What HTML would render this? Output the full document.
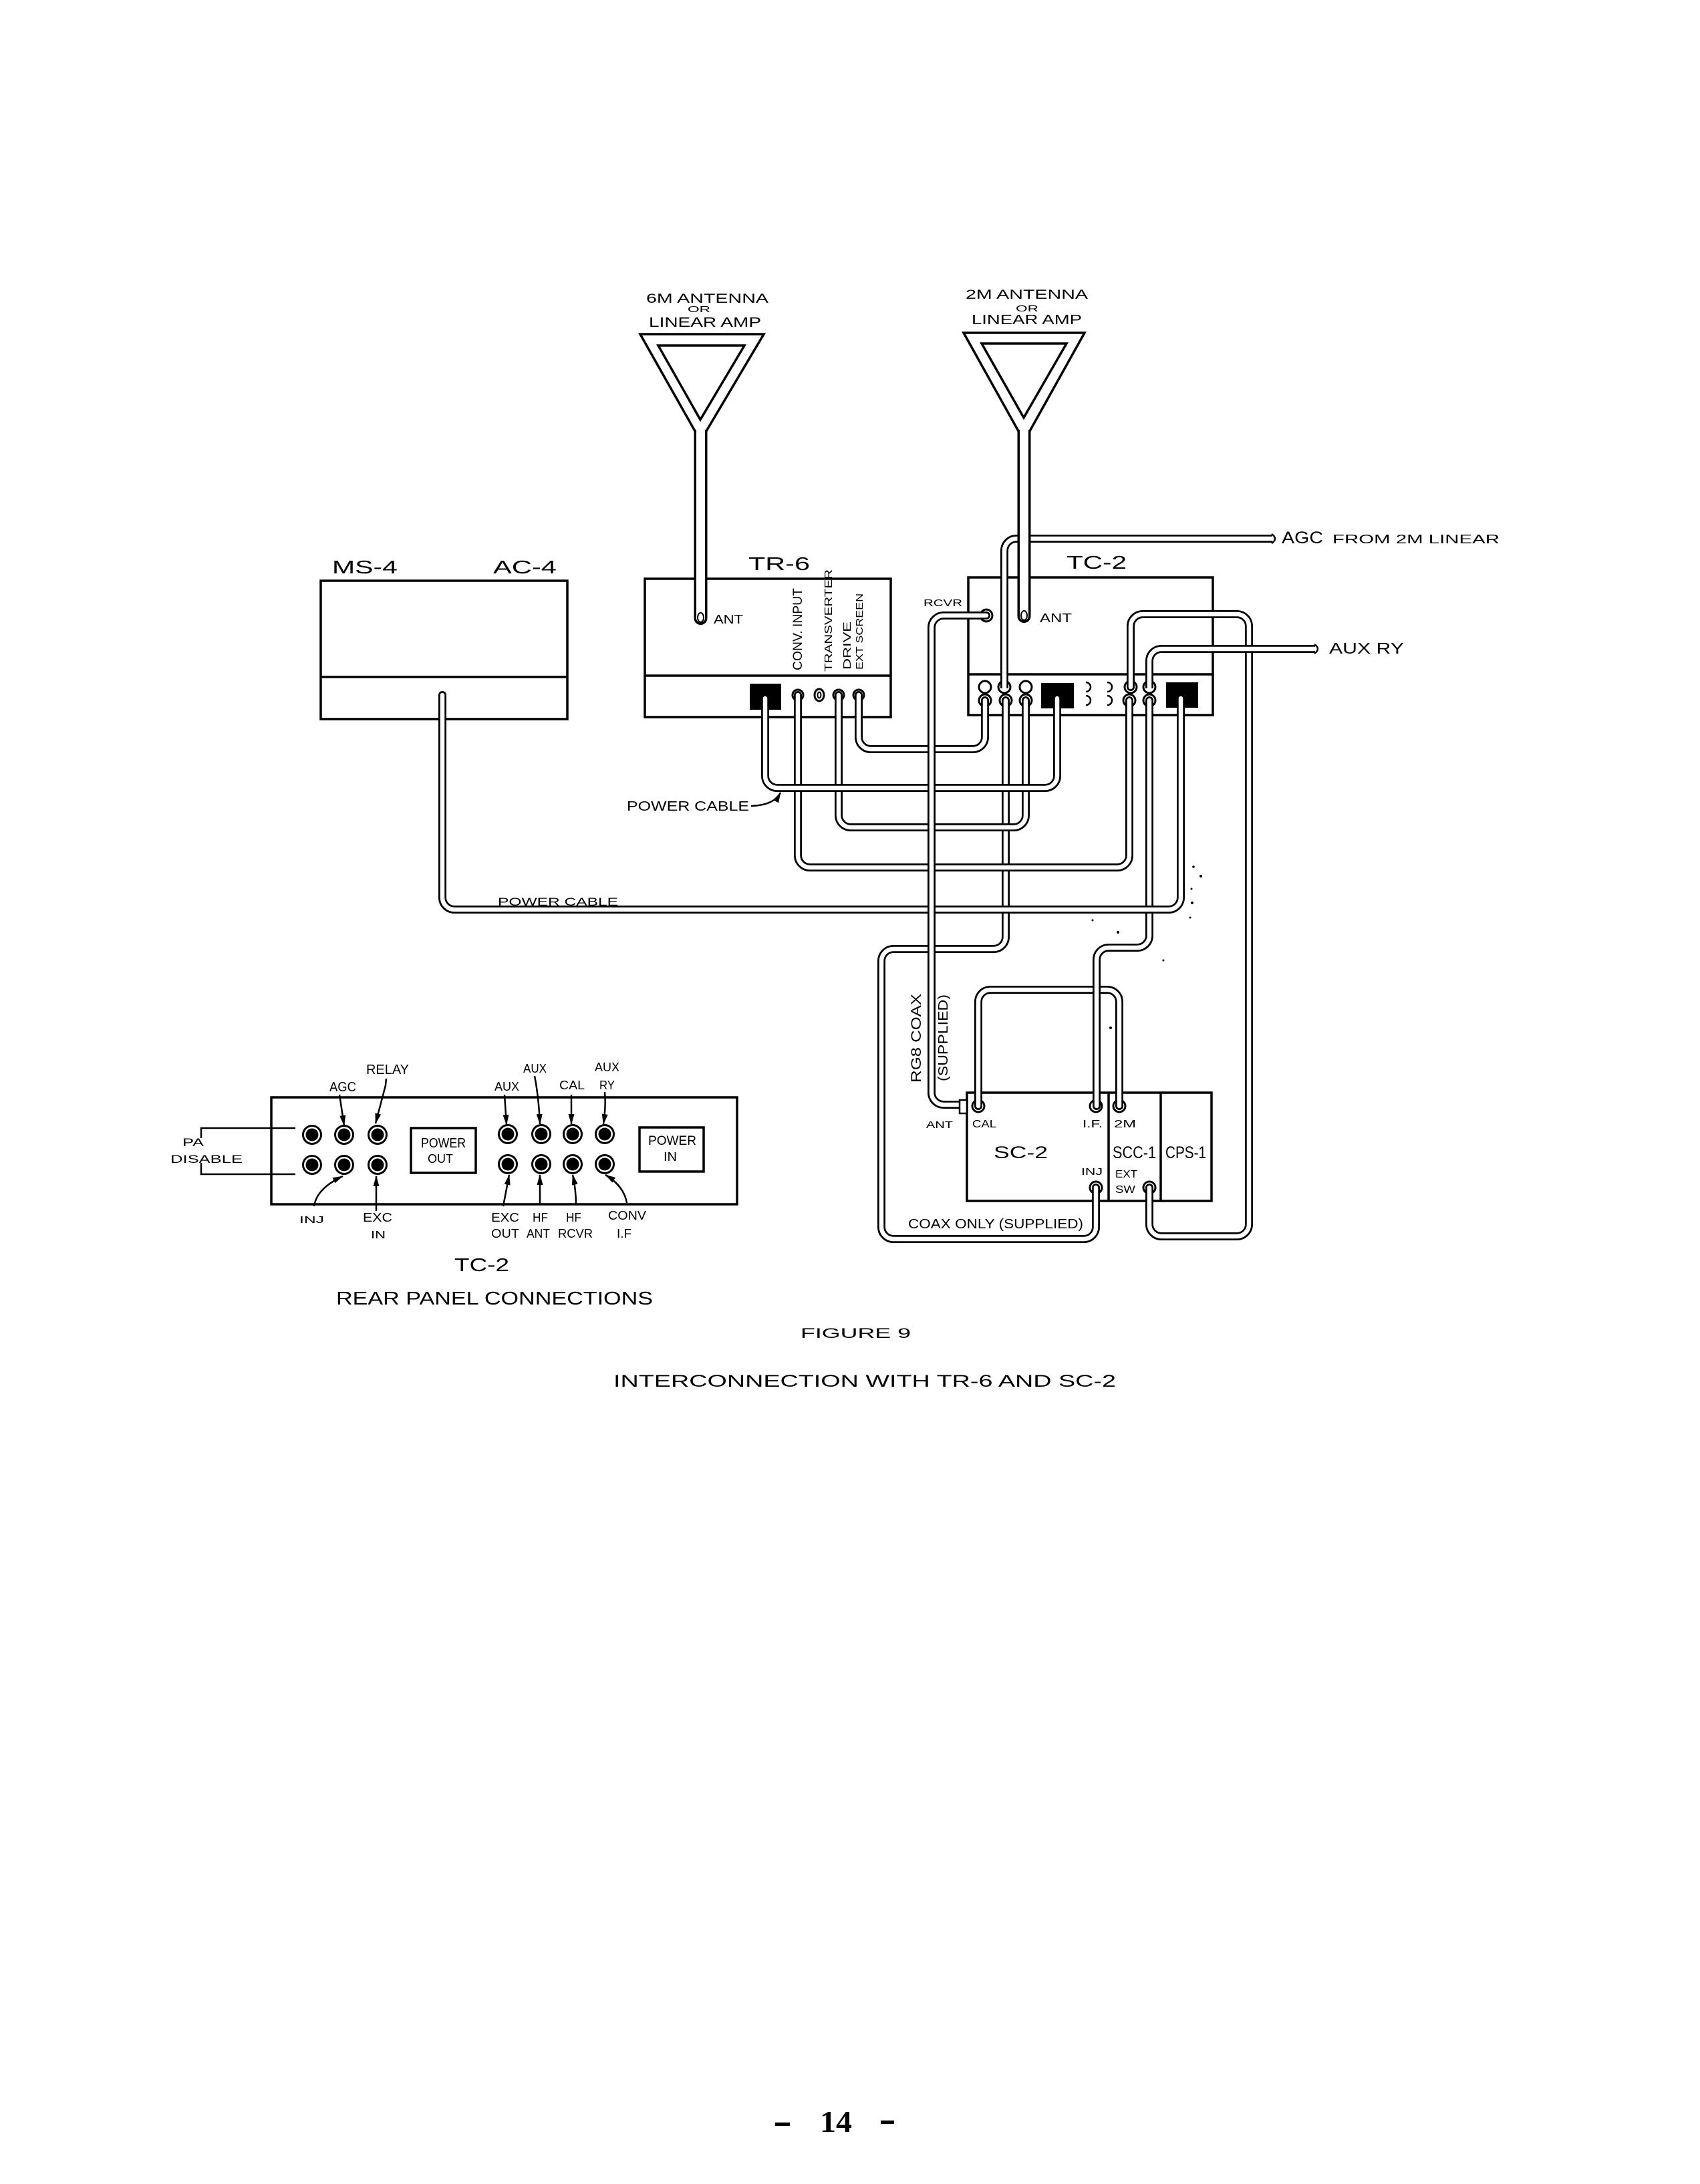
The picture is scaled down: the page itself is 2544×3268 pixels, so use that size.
<!DOCTYPE html>
<html><head><meta charset="utf-8"><style>
html,body{margin:0;padding:0;background:#fff;}
svg{display:block;}
text{font-family:"Liberation Sans",sans-serif;fill:#000;}
.k{fill:none;stroke:#000;stroke-width:12;stroke-linecap:round;stroke-linejoin:round}
.w{fill:none;stroke:#fff;stroke-width:6.5;stroke-linecap:round;stroke-linejoin:round}
.kb{fill:none;stroke:#000;stroke-width:12;stroke-linecap:butt;stroke-linejoin:round}
.wb{fill:none;stroke:#fff;stroke-width:6.5;stroke-linecap:butt;stroke-linejoin:round}
.b{fill:none;stroke:#000;stroke-width:3.5}
.r{fill:#fff;stroke:#000;stroke-width:3}
.a{fill:none;stroke:#000;stroke-width:2.5}
</style></head><body>
<svg width="2544" height="3268" viewBox="0 0 2544 3268" xmlns="http://www.w3.org/2000/svg">
<defs>
<marker id="ah" markerWidth="18" markerHeight="12" refX="15" refY="6" orient="auto" markerUnits="userSpaceOnUse"><path d="M0,1.5 L16,6 L0,10.5 z" fill="#000"/></marker>
</defs>
<rect width="2544" height="3268" fill="#fff"/>

<!-- ===== Antenna labels ===== -->
<text x="967" y="453" font-size="19.5" textLength="183" lengthAdjust="spacingAndGlyphs">6M ANTENNA</text>
<text x="1029" y="467" font-size="13" textLength="34" lengthAdjust="spacingAndGlyphs">OR</text>
<text x="971" y="489" font-size="20" textLength="168" lengthAdjust="spacingAndGlyphs">LINEAR AMP</text>
<text x="1445" y="447" font-size="19.5" textLength="183" lengthAdjust="spacingAndGlyphs">2M ANTENNA</text>
<text x="1520" y="466" font-size="13" textLength="34" lengthAdjust="spacingAndGlyphs">OR</text>
<text x="1454" y="485" font-size="20" textLength="165" lengthAdjust="spacingAndGlyphs">LINEAR AMP</text>

<!-- ===== 6M antenna triangle ===== -->
<path class="b" d="M1040 645 L958 500 H1143 L1057 645"/>
<polygon class="b" points="985,517 1114,517 1048,628"/>

<!-- ===== 2M antenna triangle ===== -->
<path class="b" d="M1524 645 L1442 498 H1623 L1541 645"/>
<polygon class="b" points="1469,514 1596,514 1532,625"/>

<!-- ===== Boxes ===== -->
<!-- MS-4 -->
<rect class="b" x="480" y="869" width="369" height="207"/>
<line class="b" x1="480" y1="1013" x2="849" y2="1013"/>
<text x="497" y="858" font-size="28" textLength="98" lengthAdjust="spacingAndGlyphs">MS-4</text>
<text x="738" y="858" font-size="28" textLength="95" lengthAdjust="spacingAndGlyphs">AC-4</text>

<!-- TR-6 -->
<rect class="b" x="965" y="866" width="368" height="207"/>
<line class="b" x1="965" y1="1011" x2="1333" y2="1011"/>
<text x="1120" y="853" font-size="28" textLength="92" lengthAdjust="spacingAndGlyphs">TR-6</text>
<text transform="translate(1200,1003) rotate(-90)" font-size="19" textLength="123" lengthAdjust="spacingAndGlyphs">CONV. INPUT</text>
<text transform="translate(1245,1005) rotate(-90)" font-size="16" textLength="153" lengthAdjust="spacingAndGlyphs">TRANSVERTER</text>
<text transform="translate(1273,1002) rotate(-90)" font-size="16" textLength="72" lengthAdjust="spacingAndGlyphs">DRIVE</text>
<text transform="translate(1291,1002) rotate(-90)" font-size="15" textLength="114" lengthAdjust="spacingAndGlyphs">EXT SCREEN</text>
<rect x="1122" y="1023" width="47" height="39" fill="#000"/>
<ellipse class="r" cx="1226" cy="1040" rx="7" ry="9"/>
<ellipse cx="1226" cy="1040" rx="2.5" ry="4.5" fill="none" stroke="#000" stroke-width="2"/>
<circle class="r" cx="1194" cy="1040" r="8"/>
<circle class="r" cx="1255" cy="1040" r="8"/>
<circle class="r" cx="1285" cy="1040" r="8"/>
<text x="1068" y="933" font-size="18" textLength="44" lengthAdjust="spacingAndGlyphs">ANT</text>

<!-- TC-2 -->
<rect class="b" x="1449" y="864" width="366" height="206"/>
<line class="b" x1="1449" y1="1009" x2="1815" y2="1009"/>
<text x="1596" y="851" font-size="28" textLength="90" lengthAdjust="spacingAndGlyphs">TC-2</text>
<text x="1382" y="907" font-size="15" textLength="58" lengthAdjust="spacingAndGlyphs">RCVR</text>
<text x="1556" y="931" font-size="18" textLength="48" lengthAdjust="spacingAndGlyphs">ANT</text>
<rect x="1558" y="1022" width="49" height="38" fill="#000"/>
<rect x="1745" y="1021" width="48" height="38" fill="#000"/>
<circle class="r" cx="1474" cy="1028" r="9"/>
<circle class="r" cx="1503" cy="1028" r="9"/>
<circle class="r" cx="1535" cy="1028" r="9"/>
<circle class="r" cx="1692" cy="1028" r="9"/>
<circle class="r" cx="1720" cy="1028" r="9"/>
<circle class="r" cx="1474" cy="1048" r="9"/>
<circle class="r" cx="1505" cy="1048" r="9"/>
<circle class="r" cx="1535" cy="1048" r="9"/>
<circle class="r" cx="1690" cy="1048" r="9"/>
<circle class="r" cx="1720" cy="1048" r="9"/>
<path class="a" stroke-width="3" d="M1625 1021 A7 7 0 1 1 1625 1035"/>
<path class="a" stroke-width="3" d="M1657 1021 A7 7 0 1 1 1657 1035"/>
<path class="a" stroke-width="3" d="M1625 1041 A7 7 0 1 1 1625 1055"/>
<path class="a" stroke-width="3" d="M1657 1041 A7 7 0 1 1 1657 1055"/>
<circle class="r" cx="1476" cy="921" r="9"/>

<!-- SC-2 -->
<rect class="b" x="1447" y="1635" width="366" height="162"/>
<line class="b" x1="1659" y1="1635" x2="1659" y2="1797"/>
<line class="b" x1="1737" y1="1635" x2="1737" y2="1797"/>
<circle class="r" cx="1464" cy="1655" r="9"/>
<circle class="r" cx="1640" cy="1655" r="9"/>
<circle class="r" cx="1675" cy="1655" r="9"/>
<circle class="r" cx="1640" cy="1777" r="9"/>
<circle class="r" cx="1720" cy="1777" r="9"/>
<text x="1386" y="1688" font-size="15" textLength="40" lengthAdjust="spacingAndGlyphs">ANT</text>
<text x="1455" y="1687" font-size="16" textLength="36" lengthAdjust="spacingAndGlyphs">CAL</text>
<text x="1620" y="1687" font-size="16" textLength="30" lengthAdjust="spacingAndGlyphs">I.F.</text>
<text x="1667" y="1687" font-size="16" textLength="33" lengthAdjust="spacingAndGlyphs">2M</text>
<text x="1487" y="1733" font-size="25" textLength="81" lengthAdjust="spacingAndGlyphs">SC-2</text>
<text x="1665" y="1733" font-size="25" textLength="65" lengthAdjust="spacingAndGlyphs">SCC-1</text>
<text x="1744" y="1733" font-size="25" textLength="61" lengthAdjust="spacingAndGlyphs">CPS-1</text>
<text x="1618" y="1758" font-size="15" textLength="32" lengthAdjust="spacingAndGlyphs">INJ</text>
<text x="1669" y="1762" font-size="16" textLength="33" lengthAdjust="spacingAndGlyphs">EXT</text>
<text x="1669" y="1785" font-size="16" textLength="30" lengthAdjust="spacingAndGlyphs">SW</text>
<text transform="translate(1378,1620) rotate(-90)" font-size="21" textLength="133" lengthAdjust="spacingAndGlyphs">RG8 COAX</text>
<text transform="translate(1418,1618) rotate(-90)" font-size="20" textLength="130" lengthAdjust="spacingAndGlyphs">(SUPPLIED)</text>
<text x="1359" y="1838" font-size="20" textLength="262" lengthAdjust="spacingAndGlyphs">COAX ONLY (SUPPLIED)</text>

<!-- ===== Cables ===== -->
<path class="k" d="M1464 1655 V1499 A18 18 0 0 1 1482 1481 H1657 A18 18 0 0 1 1675 1499 V1655"/>
<path class="w" d="M1464 1655 V1499 A18 18 0 0 1 1482 1481 H1657 A18 18 0 0 1 1675 1499 V1655"/>

<path class="k" d="M1505 1048 V1402 A18 18 0 0 1 1487 1420 H1337 A18 18 0 0 0 1319 1438 V1836 A18 18 0 0 0 1337 1854 H1622 A18 18 0 0 0 1640 1836 V1777"/>
<path class="w" d="M1505 1048 V1402 A18 18 0 0 1 1487 1420 H1337 A18 18 0 0 0 1319 1438 V1836 A18 18 0 0 0 1337 1854 H1622 A18 18 0 0 0 1640 1836 V1777"/>

<path class="k" d="M1720 1048 V1400 A18 18 0 0 1 1702 1418 H1659 A18 18 0 0 0 1641 1436 V1655"/>
<path class="w" d="M1720 1048 V1400 A18 18 0 0 1 1702 1418 H1659 A18 18 0 0 0 1641 1436 V1655"/>

<path class="k" d="M1285 1040 V1103 A18 18 0 0 0 1303 1121 H1456 A18 18 0 0 0 1474 1103 V1048"/>
<path class="w" d="M1285 1040 V1103 A18 18 0 0 0 1303 1121 H1456 A18 18 0 0 0 1474 1103 V1048"/>

<path class="k" d="M1194 1040 V1280 A18 18 0 0 0 1212 1298 H1672 A18 18 0 0 0 1690 1280 V1048"/>
<path class="w" d="M1194 1040 V1280 A18 18 0 0 0 1212 1298 H1672 A18 18 0 0 0 1690 1280 V1048"/>

<path class="k" d="M1255 1040 V1220 A18 18 0 0 0 1273 1238 H1517 A18 18 0 0 0 1535 1220 V1048"/>
<path class="w" d="M1255 1040 V1220 A18 18 0 0 0 1273 1238 H1517 A18 18 0 0 0 1535 1220 V1048"/>

<path class="k" d="M1145 1045 V1161 A18 18 0 0 0 1163 1179 H1564 A18 18 0 0 0 1582 1161 V1045"/>
<path class="w" d="M1145 1045 V1161 A18 18 0 0 0 1163 1179 H1564 A18 18 0 0 0 1582 1161 V1045"/>

<path class="k" d="M662 1040 V1343 A18 18 0 0 0 680 1361 H1749 A18 18 0 0 0 1767 1343 V1045"/>
<path class="w" d="M662 1040 V1343 A18 18 0 0 0 680 1361 H1749 A18 18 0 0 0 1767 1343 V1045"/>

<path class="k" d="M1476 921 H1412 A18 18 0 0 0 1394 939 V1635 A18 18 0 0 0 1412 1653 H1437"/>
<path class="w" d="M1476 921 H1412 A18 18 0 0 0 1394 939 V1635 A18 18 0 0 0 1412 1653 H1437"/>
<rect x="1436" y="1646" width="11" height="20" fill="#fff" stroke="#000" stroke-width="2.5"/>

<path class="kb" d="M1503 1030 V824 A18 18 0 0 1 1521 806 H1904"/>
<path class="wb" d="M1503 1030 V824 A18 18 0 0 1 1521 806 H1904"/>
<path class="a" stroke-width="3" d="M1903 799 Q1913 806 1903 813"/>

<path class="k" d="M1692 1028 V937 A18 18 0 0 1 1710 919 H1851 A18 18 0 0 1 1869 937 V1832 A18 18 0 0 1 1851 1850 H1738 A18 18 0 0 1 1720 1832 V1777"/>
<path class="w" d="M1692 1028 V937 A18 18 0 0 1 1710 919 H1851 A18 18 0 0 1 1869 937 V1832 A18 18 0 0 1 1851 1850 H1738 A18 18 0 0 1 1720 1832 V1777"/>

<path class="kb" d="M1720 1030 V989 A18 18 0 0 1 1738 971 H1968"/>
<path class="wb" d="M1720 1030 V989 A18 18 0 0 1 1738 971 H1968"/>
<path class="a" stroke-width="3" d="M1967 964 Q1977 971 1967 978"/>

<!-- ===== Antenna masts (on top of AGC cable) ===== -->
<line x1="1048.5" y1="643" x2="1048.5" y2="925" stroke="#000" stroke-width="20"/>
<line x1="1048.5" y1="640" x2="1048.5" y2="925" stroke="#fff" stroke-width="13"/>
<path d="M1038.5 925 A10 10 0 0 0 1058.5 925 Z" fill="#000"/>
<path d="M1042 925 A6.5 6.5 0 0 0 1055 925 Z" fill="#fff"/>
<ellipse cx="1048.5" cy="924" rx="4.5" ry="7" fill="none" stroke="#000" stroke-width="2"/>

<line x1="1532.5" y1="643" x2="1532.5" y2="922" stroke="#000" stroke-width="20"/>
<line x1="1532.5" y1="640" x2="1532.5" y2="922" stroke="#fff" stroke-width="13"/>
<path d="M1522.5 922 A10 10 0 0 0 1542.5 922 Z" fill="#000"/>
<path d="M1526 922 A6.5 6.5 0 0 0 1539 922 Z" fill="#fff"/>
<ellipse cx="1532.5" cy="921" rx="4.5" ry="7" fill="none" stroke="#000" stroke-width="2"/>

<!-- ===== Right labels ===== -->
<text x="1918" y="813" font-size="25" textLength="62" lengthAdjust="spacingAndGlyphs">AGC</text>
<text x="1994" y="813" font-size="18" textLength="250" lengthAdjust="spacingAndGlyphs">FROM 2M LINEAR</text>
<text x="1989" y="978" font-size="23" textLength="112" lengthAdjust="spacingAndGlyphs">AUX RY</text>

<!-- ===== Power cable labels ===== -->
<text x="938" y="1213" font-size="20" textLength="183" lengthAdjust="spacingAndGlyphs">POWER CABLE</text>
<path class="a" d="M1124 1206 Q1158 1205 1168 1186" marker-end="url(#ah)"/>
<text x="745" y="1355" font-size="17" textLength="180" lengthAdjust="spacingAndGlyphs">POWER CABLE</text>

<!-- specks -->
<circle cx="1786" cy="1297" r="1.8" fill="#000"/>
<circle cx="1797" cy="1311" r="2" fill="#000"/>
<circle cx="1783" cy="1330" r="1.5" fill="#000"/>
<circle cx="1784" cy="1351" r="2" fill="#000"/>
<circle cx="1781" cy="1373" r="1.5" fill="#000"/>
<circle cx="1673" cy="1395" r="2" fill="#000"/>
<circle cx="1635" cy="1377" r="1.5" fill="#000"/>
<circle cx="1741" cy="1437" r="1.5" fill="#000"/>
<circle cx="1662" cy="1538" r="2" fill="#000"/>

<!-- ===== Rear panel ===== -->
<rect class="b" x="406" y="1642" width="697" height="160"/>
<rect class="b" x="615" y="1688" width="97" height="67"/>
<rect class="b" x="957" y="1687" width="96" height="66"/>
<text x="630" y="1717" font-size="20" textLength="67" lengthAdjust="spacingAndGlyphs">POWER</text>
<text x="640" y="1740" font-size="18" textLength="38" lengthAdjust="spacingAndGlyphs">OUT</text>
<text x="970" y="1713" font-size="19" textLength="72" lengthAdjust="spacingAndGlyphs">POWER</text>
<text x="993" y="1737" font-size="18" textLength="20" lengthAdjust="spacingAndGlyphs">IN</text>

<!-- PA DISABLE bracket -->
<path class="a" stroke-width="3" d="M442 1688 H301 V1703"/>
<path class="a" stroke-width="3" d="M442 1757 H301 V1740"/>
<text x="273" y="1715" font-size="17" textLength="32" lengthAdjust="spacingAndGlyphs">PA</text>
<text x="255" y="1740" font-size="17" textLength="108" lengthAdjust="spacingAndGlyphs">DISABLE</text>

<!-- jacks -->
<g>
<circle class="r" cx="467" cy="1698" r="13.5"/><circle cx="467" cy="1698" r="9.5" fill="#000"/>
<circle class="r" cx="515" cy="1698" r="13.5"/><circle cx="515" cy="1698" r="9.5" fill="#000"/>
<circle class="r" cx="565" cy="1698" r="13.5"/><circle cx="565" cy="1698" r="9.5" fill="#000"/>
<circle class="r" cx="467" cy="1743" r="13.5"/><circle cx="467" cy="1743" r="9.5" fill="#000"/>
<circle class="r" cx="515" cy="1743" r="13.5"/><circle cx="515" cy="1743" r="9.5" fill="#000"/>
<circle class="r" cx="565" cy="1743" r="13.5"/><circle cx="565" cy="1743" r="9.5" fill="#000"/>
<circle class="r" cx="760" cy="1697" r="13.5"/><circle cx="760" cy="1697" r="9.5" fill="#000"/>
<circle class="r" cx="810" cy="1697" r="13.5"/><circle cx="810" cy="1697" r="9.5" fill="#000"/>
<circle class="r" cx="857" cy="1697" r="13.5"/><circle cx="857" cy="1697" r="9.5" fill="#000"/>
<circle class="r" cx="905" cy="1697" r="13.5"/><circle cx="905" cy="1697" r="9.5" fill="#000"/>
<circle class="r" cx="760" cy="1742" r="13.5"/><circle cx="760" cy="1742" r="9.5" fill="#000"/>
<circle class="r" cx="810" cy="1742" r="13.5"/><circle cx="810" cy="1742" r="9.5" fill="#000"/>
<circle class="r" cx="857" cy="1742" r="13.5"/><circle cx="857" cy="1742" r="9.5" fill="#000"/>
<circle class="r" cx="905" cy="1742" r="13.5"/><circle cx="905" cy="1742" r="9.5" fill="#000"/>
</g>

<!-- rear panel labels -->
<text x="548" y="1607" font-size="20" textLength="64" lengthAdjust="spacingAndGlyphs">RELAY</text>
<text x="493" y="1633" font-size="20" textLength="40" lengthAdjust="spacingAndGlyphs">AGC</text>
<text x="448" y="1830" font-size="15" textLength="37" lengthAdjust="spacingAndGlyphs">INJ</text>
<text x="543" y="1828" font-size="18" textLength="44" lengthAdjust="spacingAndGlyphs">EXC</text>
<text x="555" y="1853" font-size="16" textLength="22" lengthAdjust="spacingAndGlyphs">IN</text>
<text x="783" y="1605" font-size="18" textLength="35" lengthAdjust="spacingAndGlyphs">AUX</text>
<text x="740" y="1632" font-size="18" textLength="37" lengthAdjust="spacingAndGlyphs">AUX</text>
<text x="837" y="1630" font-size="18" textLength="38" lengthAdjust="spacingAndGlyphs">CAL</text>
<text x="890" y="1603" font-size="18" textLength="37" lengthAdjust="spacingAndGlyphs">AUX</text>
<text x="897" y="1630" font-size="18" textLength="23" lengthAdjust="spacingAndGlyphs">RY</text>
<text x="735" y="1828" font-size="18" textLength="42" lengthAdjust="spacingAndGlyphs">EXC</text>
<text x="735" y="1852" font-size="18" textLength="42" lengthAdjust="spacingAndGlyphs">OUT</text>
<text x="797" y="1828" font-size="18" textLength="23" lengthAdjust="spacingAndGlyphs">HF</text>
<text x="788" y="1852" font-size="18" textLength="35" lengthAdjust="spacingAndGlyphs">ANT</text>
<text x="847" y="1828" font-size="18" textLength="23" lengthAdjust="spacingAndGlyphs">HF</text>
<text x="835" y="1852" font-size="18" textLength="52" lengthAdjust="spacingAndGlyphs">RCVR</text>
<text x="910" y="1825" font-size="18" textLength="57" lengthAdjust="spacingAndGlyphs">CONV</text>
<text x="923" y="1852" font-size="18" textLength="22" lengthAdjust="spacingAndGlyphs">I.F</text>

<!-- rear panel arrows -->
<path class="a" d="M508 1638 L515 1684" marker-end="url(#ah)"/>
<path class="a" d="M578 1614 L577 1624 L562 1681" marker-end="url(#ah)"/>
<path class="a" d="M470 1805 Q474 1778 513 1760" marker-end="url(#ah)"/>
<path class="a" d="M563 1812 L563 1760" marker-end="url(#ah)"/>
<path class="a" d="M755 1638 L758 1683" marker-end="url(#ah)"/>
<path class="a" d="M800 1610 Q806 1640 808 1682" marker-end="url(#ah)"/>
<path class="a" d="M855 1638 L855 1682" marker-end="url(#ah)"/>
<path class="a" d="M905 1634 Q907 1655 903 1682" marker-end="url(#ah)"/>
<path class="a" d="M753 1805 L762 1758" marker-end="url(#ah)"/>
<path class="a" d="M808 1803 L808 1758" marker-end="url(#ah)"/>
<path class="a" d="M862 1803 Q862 1780 857 1758" marker-end="url(#ah)"/>
<path class="a" d="M938 1800 Q934 1775 906 1758" marker-end="url(#ah)"/>

<text x="680" y="1902" font-size="28" textLength="82" lengthAdjust="spacingAndGlyphs">TC-2</text>
<text x="503" y="1952" font-size="28" textLength="474" lengthAdjust="spacingAndGlyphs">REAR PANEL CONNECTIONS</text>

<!-- ===== Caption ===== -->
<text x="1198" y="2002" font-size="21" textLength="165" lengthAdjust="spacingAndGlyphs">FIGURE 9</text>
<text x="918" y="2075" font-size="25" textLength="752" lengthAdjust="spacingAndGlyphs">INTERCONNECTION WITH TR-6 AND SC-2</text>

<!-- ===== Page number ===== -->
<rect x="1160" y="3176" width="22" height="5" fill="#000"/>
<text x="1227" y="3190" font-weight="bold" font-size="45" textLength="48" lengthAdjust="spacingAndGlyphs" style="font-family:'Liberation Serif',serif">14</text>
<rect x="1318" y="3173" width="20" height="5" fill="#000"/>
</svg>
</body></html>
